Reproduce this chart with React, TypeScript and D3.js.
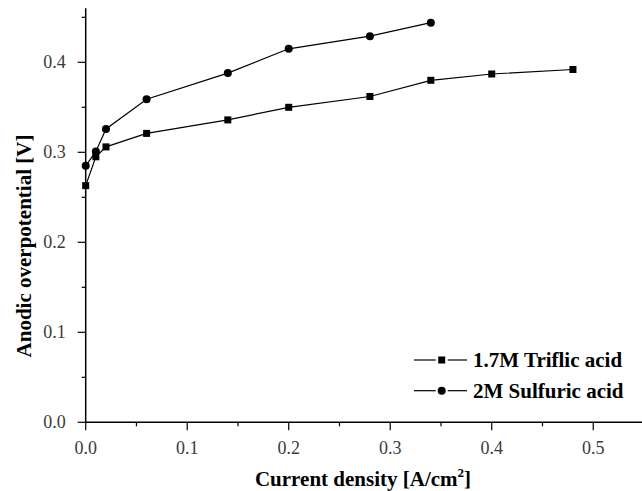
import React from 'react';
import * as d3 from 'd3';

// current density [A/cm2]
const triflicX = [0, 0.01, 0.02, 0.06, 0.14, 0.2, 0.28, 0.34, 0.4, 0.48];
const triflicY = [0.263, 0.295, 0.306, 0.321, 0.336, 0.35, 0.362, 0.38, 0.387, 0.392];
const sulfuricX = [0, 0.01, 0.02, 0.06, 0.14, 0.2, 0.28, 0.34];
const sulfuricY = [0.285, 0.301, 0.326, 0.359, 0.388, 0.415, 0.429, 0.444];

const xTicks = [0, 0.1, 0.2, 0.3, 0.4, 0.5];
const xMinor = [0.05, 0.15, 0.25, 0.35, 0.45];
const yTicks = [0, 0.1, 0.2, 0.3, 0.4];
const yMinor = [0.05, 0.15, 0.25, 0.35, 0.45];

const seriesNames = ['1.7M Triflic acid', '2M Sulfuric acid'];

const W = 642, H = 491;
const FONT = '"Liberation Serif", "Times New Roman", serif';

export default function App() {
  const x = d3.scaleLinear().domain([0, 0.55]).range([85.7, 644]);
  const y = d3.scaleLinear().domain([0, 0.46]).range([422.3, 8.3]);
  const fmt = d3.format('.1f');

  const line = d3.line<[number, number]>()
    .x(d => x(d[0]))
    .y(d => y(d[1]));

  const triflic: [number, number][] = triflicX.map((v, i) => [v, triflicY[i]]);
  const sulfuric: [number, number][] = sulfuricX.map((v, i) => [v, sulfuricY[i]]);

  const x0 = x(0), y0 = y(0);

  return (
    <svg width={W} height={H} style={{ position: 'absolute', left: 0, top: 0, background: '#fff' }}>
      {/* axes */}
      <line x1={x0} x2={W} y1={y0} y2={y0} stroke="#000" strokeWidth={1.5} />
      <line x1={x0} x2={x0} y1={y0} y2={y(0.46)} stroke="#000" strokeWidth={1.5} />
      {xTicks.map(t => (
        <g key={'xt' + t}>
          <line x1={x(t)} x2={x(t)} y1={y0} y2={y0 + 8} stroke="#000" strokeWidth={1.2} />
          <text x={x(t)} y={y0 + 32} textAnchor="middle" fontFamily={FONT} fontSize={18} fill="#3a3a3a">{fmt(t)}</text>
        </g>
      ))}
      {xMinor.map(t => (
        <line key={'xm' + t} x1={x(t)} x2={x(t)} y1={y0} y2={y0 + 4} stroke="#000" strokeWidth={1.2} />
      ))}
      {yTicks.map(t => (
        <g key={'yt' + t}>
          <line x1={x0 - 8} x2={x0} y1={y(t)} y2={y(t)} stroke="#000" strokeWidth={1.2} />
          <text x={x0 - 20} y={y(t) + 6} textAnchor="end" fontFamily={FONT} fontSize={18} fill="#3a3a3a">{fmt(t)}</text>
        </g>
      ))}
      {yMinor.map(t => (
        <line key={'ym' + t} x1={x0 - 4} x2={x0} y1={y(t)} y2={y(t)} stroke="#000" strokeWidth={1.2} />
      ))}

      {/* axis titles */}
      <text x={363} y={486} textAnchor="middle" fontFamily={FONT} fontSize={21} fontWeight="bold">
        Current density [A/cm<tspan dy={-9} fontSize={13}>2</tspan><tspan dy={9}>]</tspan>
      </text>
      <text transform="translate(31,246) rotate(-90)" textAnchor="middle" fontFamily={FONT} fontSize={21} fontWeight="bold">
        Anodic overpotential [V]
      </text>

      {/* series */}
      <path d={line(triflic) || ''} fill="none" stroke="#000" strokeWidth={1.2} />
      <path d={line(sulfuric) || ''} fill="none" stroke="#000" strokeWidth={1.2} />
      {triflic.map((d, i) => (
        <rect key={'s' + i} x={x(d[0]) - 3.5} y={y(d[1]) - 3.5} width={7} height={7} fill="#000" />
      ))}
      {sulfuric.map((d, i) => (
        <circle key={'c' + i} cx={x(d[0])} cy={y(d[1])} r={4} fill="#000" />
      ))}

      {/* legend */}
      {seriesNames.map((name, i) => {
        const ly = 360 + i * 30.7;
        const mx = 441.7;
        return (
          <g key={name}>
            <line x1={414} x2={mx - 6} y1={ly} y2={ly} stroke="#000" strokeWidth={1.2} />
            <line x1={mx + 6} x2={467} y1={ly} y2={ly} stroke="#000" strokeWidth={1.2} />
            {i === 0
              ? <rect x={mx - 3.5} y={ly - 3.5} width={7} height={7} fill="#000" />
              : <circle cx={mx} cy={ly} r={4} fill="#000" />}
            <text x={473} y={ly + 7} fontFamily={FONT} fontSize={21} fontWeight="bold">{name}</text>
          </g>
        );
      })}
    </svg>
  );
}
